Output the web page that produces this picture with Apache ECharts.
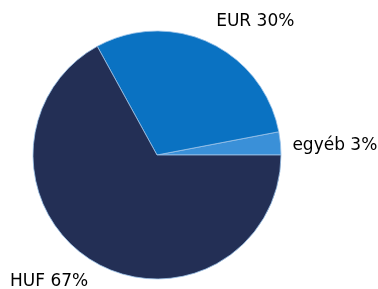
<!DOCTYPE html>
<html><head><meta charset="utf-8">
<script src="https://cdn.jsdelivr.net/npm/echarts@6/dist/echarts.min.js"></script>
<style>html,body{margin:0;padding:0;background:#fff}#c{width:378px;height:289px}</style>
</head><body><div id="c"></div>
<script>
var categories = ['egyéb', 'EUR', 'HUF'];
var values = [3, 30, 67];
var colors = ['#3a90d8', '#0a72c2', '#232f55'];
var labelShift = [[-8, 4], [-5, -8], [7, 7]];

var chart = echarts.init(document.getElementById('c'), null, {renderer: 'canvas'});
chart.setOption({
  animation: false,
  series: [{
    type: 'pie',
    center: [157, 155],
    radius: 124,
    startAngle: 0,
    clockwise: false,
    data: categories.map(function (c, i) {
      return {name: c, value: values[i], itemStyle: {color: colors[i]}};
    }),
    itemStyle: {borderColor: '#9cc3e8', borderWidth: 0.8},
    label: {
      show: true,
      position: 'outside',
      overflow: 'none',
      formatter: function (p) { return p.name + ' ' + p.value + '%'; },
      fontFamily: 'DejaVu Sans',
      fontSize: 17,
      color: '#000'
    },
    labelLine: {show: false, length: 15, length2: 0},
    labelLayout: function (p) {
      var s = labelShift[p.dataIndex];
      return {dx: s[0], dy: s[1]};
    },
    emphasis: {disabled: true}
  }]
});
</script></body></html>
